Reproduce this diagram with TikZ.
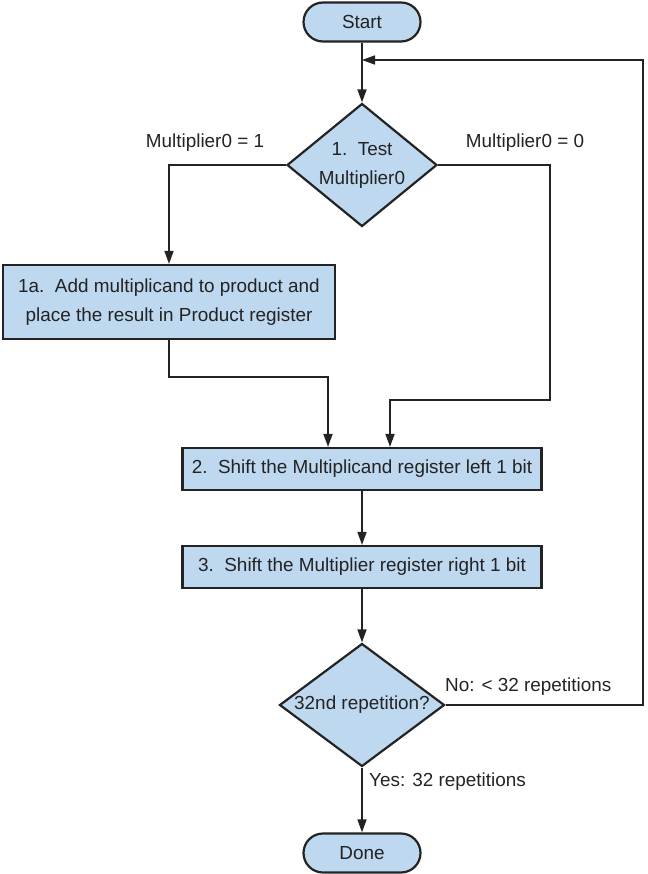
\documentclass[tikz,border=0pt]{standalone}
\usepackage{fontspec}
\setmainfont{Liberation Sans}
\usetikzlibrary{shapes.geometric,arrows.meta}
\definecolor{stepfill}{RGB}{190,216,240}
\definecolor{ink}{RGB}{35,35,35}

\begin{document}
\begin{tikzpicture}[x=1pt,y=-1pt,
  every node/.style={font=\fontsize{18.9}{29}\selectfont, text=ink},
  shapebase/.style={draw=ink, line width=2.2pt, fill=stepfill, inner sep=0pt},
  terminal/.style={shapebase, rectangle, rounded corners=19.5pt,
                   minimum width=117pt, minimum height=39pt},
  stepbox/.style={shapebase, rectangle, align=center, minimum height=42pt},
  decision/.style={shapebase, diamond, align=center},
  arr/.style={draw=ink, line width=1.6pt, -{Triangle[length=13pt,width=9pt]}},
  lbl/.style={inner sep=0pt}
]
\useasboundingbox (0,0) rectangle (647,874);

% process nodes
\node[terminal] (start) at (362,22) {Start};
\node[decision, aspect=1.22, inner sep=-3pt,
      minimum width=150pt, minimum height=123pt] (d1) at (362,165)
  {1.\ \ Test\\Multiplier0};
\node[stepbox, minimum width=332pt, minimum height=74pt] (b1a) at (169,302)
  {1a.\ \ Add multiplicand to product and\\place the result in Product register};
\node[stepbox, minimum width=359pt] (b2) at (362,469)
  {2.\ \ Shift the Multiplicand register left 1 bit};
\node[stepbox, minimum width=359pt] (b3) at (362,567)
  {3.\ \ Shift the Multiplier register right 1 bit};
\node[decision, aspect=1.34, inner sep=-1pt,
      minimum width=165pt, minimum height=123pt] (d2) at (362,705)
  {32nd repetition?};
\node[terminal] (done) at (362,853) {Done};

% routing points
\coordinate (jl) at (328,377);
\coordinate (rr) at (550,400);
\coordinate (jr) at (390,400);
\coordinate (lp) at (643,60);

% connectors
\draw[arr] (start.south) -- (d1.north);
\draw[arr] (d1.west) -| (b1a.north);
\draw[arr] (d1.east) -| (rr) -- (jr) -- (b2.north -| jr);
\draw[arr] (b1a.south) |- (jl) -- (b2.north -| jl);
\draw[arr] (b2.south) -- (b3.north);
\draw[arr] (b3.south) -- (d2.north);
\draw[arr] (d2.south) -- (done.north);
\draw[arr] (d2.east) -| (lp) -- (start.south |- lp);

% branch labels
\node[lbl] (l1) at (205,143) {Multiplier0 = 1};
\node[lbl] (l0) at (525,143) {Multiplier0 = 0};
\node[lbl, anchor=west] (lno) at (445,687) {No: < 32 repetitions};
\node[lbl, anchor=west] (lyes) at (369,782) {Yes: 32 repetitions};
\end{tikzpicture}
\end{document}
